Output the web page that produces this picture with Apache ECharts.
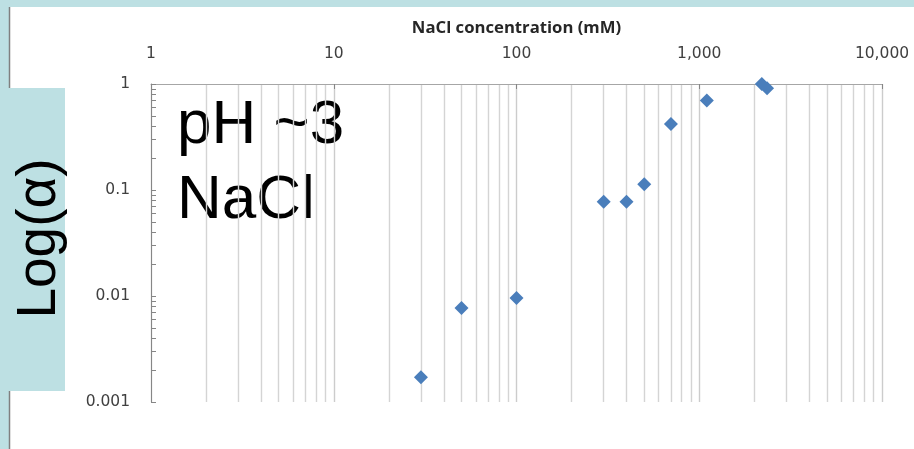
<!DOCTYPE html>
<html><head><meta charset="utf-8">
<script src="https://cdn.jsdelivr.net/npm/echarts@6/dist/echarts.min.js"></script>
<style>html,body{margin:0;padding:0;background:#fff}#c{width:914px;height:449px}</style>
</head><body><div id="c"></div>
<script>
const concentrations = [30, 50, 100, 300, 400, 500, 700, 1100, 2200, 2350];
const alphaValues = [0.00171, 0.0077, 0.0096, 0.0776, 0.0776, 0.113, 0.42, 0.70, 1.0, 0.91];
const xTickValues = [1, 10, 100, 1000, 10000];
const xTickLabels = ['1', '10', '100', '1,000', '10,000'];
const yTickValues = [0.001, 0.01, 0.1, 1];
const yTickLabels = ['0.001', '0.01', '0.1', '1'];
const xTitle = 'NaCl concentration (mM)';
const yTitle = 'Log(α)';
const noteLines = ['pH ~3', 'NaCl'];

function labelFor(values, labels) {
  return function (v) {
    for (let i = 0; i < values.length; i++) {
      if (Math.abs(Math.log10(v) - Math.log10(values[i])) < 1e-6) return labels[i];
    }
    return '';
  };
}

const BAND = '#bde0e3';
const chart = echarts.init(document.getElementById('c'));
chart.setOption({
  animation: false,
  backgroundColor: '#ffffff',
  grid: { left: 151, top: 84, right: 32, bottom: 47, containLabel: false },
  xAxis: {
    type: 'log', logBase: 10, min: 1, max: 10000, position: 'top',
    name: xTitle, nameLocation: 'middle', nameGap: 47,
    nameTextStyle: { fontFamily: 'Open Sans', fontWeight: 'bold', fontSize: 16.7, color: '#262626' },
    axisLine: { show: true, lineStyle: { color: '#a6a6a6', width: 1 } },
    axisTick: { show: true, inside: true, length: 5, lineStyle: { color: '#868686' } },
    minorTick: { show: false, splitNumber: 9 },
    axisLabel: { formatter: labelFor(xTickValues, xTickLabels), margin: 22, fontFamily: 'DejaVu Sans', fontSize: 15.5, color: '#404040' },
    splitLine: { show: true, lineStyle: { color: '#cccccc', width: 1.4 } },
    minorSplitLine: { show: true, lineStyle: { color: '#d4d4d4', width: 1.4 } }
  },
  yAxis: {
    type: 'log', logBase: 10, min: 0.001, max: 1,
    axisLine: { show: true, lineStyle: { color: '#868686', width: 1 } },
    axisTick: { show: true, inside: true, length: 5, lineStyle: { color: '#868686' } },
    minorTick: { show: true, splitNumber: 9, length: 5, lineStyle: { color: '#868686' } },
    axisLabel: { formatter: labelFor(yTickValues, yTickLabels), margin: 21, fontFamily: 'DejaVu Sans', fontSize: 15.5, color: '#404040' },
    splitLine: { show: false }
  },
  series: [{
    type: 'scatter',
    data: concentrations.map((c, i) => [c, alphaValues[i]]),
    symbol: 'diamond', symbolSize: [14, 14], clip: false,
    itemStyle: { color: '#4a7ebb', opacity: 1 }, z: 5
  }],
  graphic: [
    { type: 'rect', shape: { x: 0, y: 0, width: 914, height: 7 }, style: { fill: BAND }, silent: true },
    { type: 'rect', shape: { x: 0, y: 0, width: 9, height: 449 }, style: { fill: BAND }, silent: true },
    { type: 'line', shape: { x1: 9.5, y1: 7, x2: 9.5, y2: 449 }, style: { stroke: '#808080', lineWidth: 1.5 }, silent: true },
    { type: 'rect', shape: { x: 0, y: 88, width: 65, height: 303 }, style: { fill: BAND }, silent: true },
    { type: 'text', x: 40, y: 238.5, rotation: Math.PI / 2,
      style: { text: yTitle, font: '55px "Liberation Sans"', fill: '#000', textAlign: 'center', textVerticalAlign: 'middle' }, silent: true },
    { type: 'text', x: 177, y: 126,
      style: { text: noteLines[0], font: '62px "Liberation Sans"', fill: '#000', textAlign: 'left', textVerticalAlign: 'middle' }, silent: true },
    { type: 'text', x: 177, y: 201,
      style: { text: noteLines[1], font: '62px "Liberation Sans"', fill: '#000', textAlign: 'left', textVerticalAlign: 'middle' }, silent: true }
  ]
});
</script></body></html>
